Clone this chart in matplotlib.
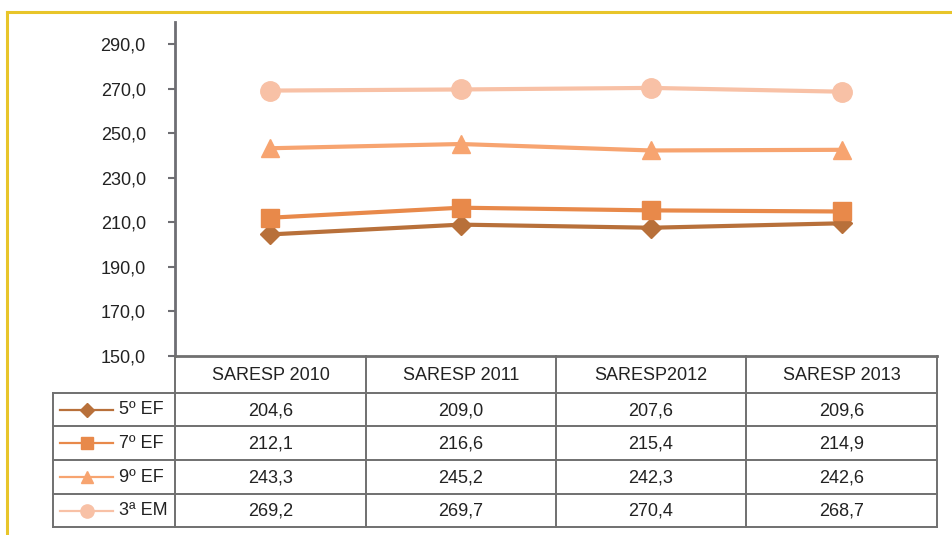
import matplotlib
matplotlib.use("Agg")
import matplotlib.pyplot as plt
from matplotlib.lines import Line2D
import numpy as np

plt.rcParams['font.family'] = ['Liberation Sans', 'DejaVu Sans']

categories = ["SARESP 2010", "SARESP 2011", "SARESP2012", "SARESP 2013"]
series_names = ["5º EF", "7º EF", "9º EF", "3ª EM"]
v5 = [204.6, 209.0, 207.6, 209.6]
v7 = [212.1, 216.6, 215.4, 214.9]
v9 = [243.3, 245.2, 242.3, 242.6]
v3 = [269.2, 269.7, 270.4, 268.7]
yticks = [150, 170, 190, 210, 230, 250, 270, 290]

series = [v5, v7, v9, v3]
colors = ["#B8703A", "#E8894A", "#F7A470", "#F8C1A6"]
markers = ["D", "s", "^", "o"]
msizes = [10, 13, 13, 14]

W, H = 952, 535
fig = plt.figure(figsize=(W/100, H/100), dpi=100)

def fx(x): return x / W
def fy(y): return 1 - y / H

FS = 13
TC = "#222222"

# yellow frame
fig.add_artist(Line2D([fx(7), fx(952)], [fy(12), fy(12)], color="#E8C52A", lw=2.2))
fig.add_artist(Line2D([fx(7), fx(7)], [fy(12), fy(535)], color="#E8C52A", lw=2.2))

L, R, T, B = 175, 937, 22, 356
ax = fig.add_axes([fx(L), fy(B), fx(R) - fx(L), fy(T) - fy(B)])
n = len(categories)
xs = np.arange(n) + 0.5
for vals, c, m, ms in zip(series, colors, markers, msizes):
    ax.plot(xs, vals, color=c, lw=3, marker=m, markersize=ms, markeredgecolor=c, markerfacecolor=c, clip_on=False, zorder=3)
ax.set_xlim(0, n)
ax.set_ylim(150, 300)
ax.set_yticks(yticks)
ax.set_yticklabels([f"{t:.1f}".replace(".", ",") for t in yticks], fontsize=FS, color=TC)
ax.set_xticks([])
for s in ["top", "right", "bottom"]:
    ax.spines[s].set_visible(False)
ax.spines["left"].set_color("#6e6e73")
ax.spines["left"].set_linewidth(2)
ax.tick_params(axis="y", length=5, width=1.5, color="#6e6e73", pad=16)

# table
tax = fig.add_axes([fx(53), fy(528), fx(937) - fx(53), fy(356) - fy(528)])
tax.set_xlim(53, 937)
tax.set_ylim(528, 356)
tax.axis("off")
gc = "#707070"
lw = 1.4
cols = [175, 366, 556, 746, 937]
rows = [356, 393, 426, 460, 494, 527]
tax.plot([175, 937], [356, 356], color=gc, lw=2, clip_on=False)
for y in rows[1:]:
    tax.plot([53, 937], [y, y], color=gc, lw=lw, clip_on=False)
tax.plot([53, 53], [rows[1], rows[-1]], color=gc, lw=lw, clip_on=False)
for x in cols:
    tax.plot([x, x], [356, rows[-1]], color=gc, lw=lw, clip_on=False)
for i, cat in enumerate(categories):
    tax.text((cols[i] + cols[i+1]) / 2, (rows[0] + rows[1]) / 2 + 1, cat, ha="center", va="center", fontsize=FS, color=TC)
for r, (name, vals, c, m, ms) in enumerate(zip(series_names, series, colors, markers, msizes)):
    yc = (rows[r+1] + rows[r+2]) / 2
    tax.plot([60, 113], [yc, yc], color=c, lw=1.6, clip_on=False)
    tax.plot([86.5], [yc], marker=m, color=c, markersize=ms * 0.68, clip_on=False)
    tax.text(119, yc, name, ha="left", va="center", fontsize=FS, color=TC)
    for i, v in enumerate(vals):
        tax.text((cols[i] + cols[i+1]) / 2, yc + 1, f"{v:.1f}".replace(".", ","), ha="center", va="center", fontsize=FS, color=TC)

fig.savefig("out.png", dpi=100)
